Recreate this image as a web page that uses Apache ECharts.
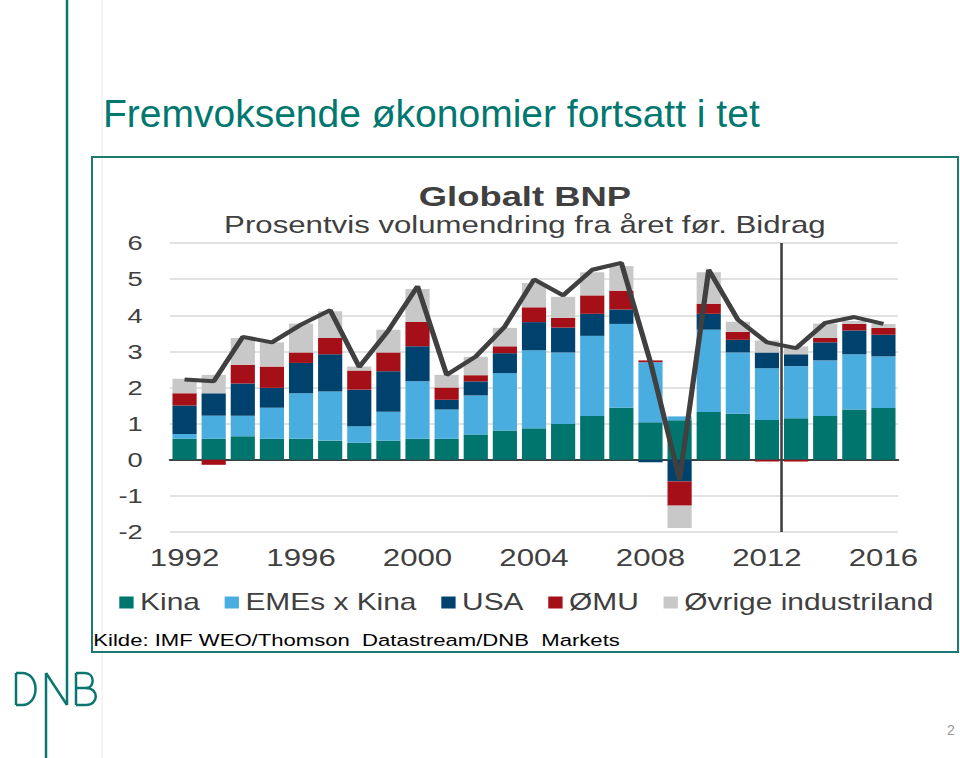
<!DOCTYPE html>
<html><head><meta charset="utf-8">
<script src="https://cdn.jsdelivr.net/npm/echarts@6/dist/echarts.min.js"></script>
<style>
html,body{margin:0;padding:0;background:#fff;overflow:hidden;}
#page{position:absolute;left:0;top:0;width:960px;height:758px;}
#chart{position:absolute;left:92px;top:157px;width:666px;height:495px;transform-origin:0 0;transform:scaleX(1.3);}
</style></head><body>
<div id="page"></div><div id="chart"></div>
<script>
var years = ['1992','1993','1994','1995','1996','1997','1998','1999','2000','2001','2002','2003','2004','2005','2006','2007','2008','2009','2010','2011','2012','2013','2014','2015','2016'];
var kina   = [0.58,0.58,0.65,0.58,0.58,0.53,0.47,0.53,0.58,0.58,0.70,0.81,0.87,0.99,1.21,1.44,1.04,1.09,1.32,1.27,1.10,1.15,1.21,1.39,1.43];
var emes   = [0.13,0.64,0.57,0.86,1.26,1.36,0.46,0.80,1.59,0.81,1.08,1.59,2.16,1.98,2.22,2.32,1.66,0.11,2.28,1.70,1.43,1.44,1.54,1.53,1.43];
var usa    = [0.79,0.62,0.89,0.55,0.84,1.03,1.01,1.12,0.97,0.27,0.39,0.55,0.78,0.69,0.61,0.40,-0.07,-0.60,0.44,0.35,0.44,0.33,0.50,0.66,0.60];
var omu    = [0.34,-0.14,0.52,0.59,0.29,0.45,0.53,0.52,0.67,0.34,0.17,0.19,0.41,0.27,0.51,0.52,0.05,-0.67,0.28,0.22,-0.05,-0.05,0.12,0.18,0.19];
var ovrige = [0.40,0.51,0.74,0.67,0.80,0.74,0.11,0.63,0.92,0.35,0.51,0.51,0.67,0.58,0.64,0.68,0.00,-0.62,0.87,0.28,0.33,0.22,0.40,0.08,0.11];
var total  = [2.22,2.17,3.40,3.25,3.74,4.14,2.57,3.58,4.80,2.35,2.86,3.69,4.99,4.55,5.26,5.45,2.70,-0.55,5.26,3.88,3.25,3.09,3.79,3.95,3.76];
var seriesNames = ['Kina','EMEs x Kina','USA','ØMU','Øvrige industriland'];
var seriesColors = ['#00756e','#4aaddf','#00426e','#a50f18','#c8c8c8'];
var forecastBoundary = [[21,-2],[21,6]];
var yTicks = {min:-2, max:6, interval:1};

var FONT = 'Liberation Sans, Arial, sans-serif';
var TEAL = '#0b756f';

// Page layer
var page = echarts.init(document.getElementById('page'), null, {renderer:'svg'});
page.setOption({
  animation:false,
  graphic:[
    {type:'line', shape:{x1:102,y1:0,x2:102,y2:758}, style:{stroke:'#ececec',lineWidth:1}},
    {type:'line', shape:{x1:67,y1:0,x2:67,y2:705}, style:{stroke:TEAL,lineWidth:2.5}},
    {type:'line', shape:{x1:46,y1:673,x2:67,y2:705}, style:{stroke:TEAL,lineWidth:2.5}},
    {type:'line', shape:{x1:46,y1:673,x2:46,y2:758}, style:{stroke:TEAL,lineWidth:2.5}},
    // D
    {type:'line', shape:{x1:16,y1:673,x2:16,y2:705}, style:{stroke:TEAL,lineWidth:2.5}},
    {type:'line', shape:{x1:16,y1:673,x2:22,y2:673}, style:{stroke:TEAL,lineWidth:2.5}},
    {type:'line', shape:{x1:16,y1:705,x2:22,y2:705}, style:{stroke:TEAL,lineWidth:2.5}},
    {type:'bezierCurve', shape:{x1:22,y1:673,cpx1:40,cpy1:673,cpx2:40,cpy2:705,x2:22,y2:705}, style:{stroke:TEAL,lineWidth:2.5,fill:null}},
    // B
    {type:'line', shape:{x1:76,y1:673,x2:76,y2:705}, style:{stroke:TEAL,lineWidth:2.5}},
    {type:'line', shape:{x1:76,y1:673,x2:85,y2:673}, style:{stroke:TEAL,lineWidth:2.5}},
    {type:'line', shape:{x1:76,y1:688,x2:86,y2:688}, style:{stroke:TEAL,lineWidth:2.5}},
    {type:'line', shape:{x1:76,y1:705,x2:86,y2:705}, style:{stroke:TEAL,lineWidth:2.5}},
    {type:'bezierCurve', shape:{x1:85,y1:673,cpx1:95,cpy1:673,cpx2:95,cpy2:688,x2:86,y2:688}, style:{stroke:TEAL,lineWidth:2.5,fill:null}},
    {type:'bezierCurve', shape:{x1:86,y1:688,cpx1:99,cpy1:688,cpx2:99,cpy2:705,x2:86,y2:705}, style:{stroke:TEAL,lineWidth:2.5,fill:null}},
    {type:'text', x:103, y:113, style:{text:'Fremvoksende økonomier fortsatt i tet', font:'39px '+FONT, fill:'#00776f', verticalAlign:'middle'}},
    {type:'rect', shape:{x:92,y:157,width:866,height:495}, style:{stroke:'#1c7a72',lineWidth:2,fill:null}},
    {type:'text', x:951, y:730, style:{text:'2', font:'14px '+FONT, fill:'#999', align:'center', verticalAlign:'middle'}}
  ]
});

// Chart layer (horizontally stretched like the reference picture)
var chart = echarts.init(document.getElementById('chart'), null, {renderer:'svg'});
var series = seriesNames.map(function(n,i){
  return {name:n, type:'bar', stack:'bnp', data:[kina,emes,usa,omu,ovrige][i],
    itemStyle:{color:seriesColors[i]}, barCategoryGap:'17%'};
});
series.push({name:'Totalt', type:'line', data:total, symbol:'none', z:10,
  lineStyle:{color:'#404040', width:4}, itemStyle:{color:'#404040'}});
series.push({name:'Prognose', type:'line', xAxisIndex:1, data:forecastBoundary, symbol:'none', z:9,
  lineStyle:{color:'#404040', width:2}, itemStyle:{color:'#404040'}});

chart.setOption({
  animation:false,
  textStyle:{fontFamily:FONT},
  title:[
    {text:'Globalt BNP', left:'center', top:21, textStyle:{fontSize:28, fontWeight:'bold', color:'#404040', fontFamily:FONT}},
    {text:'Prosentvis volumendring fra året før. Bidrag', left:'center', top:51, textStyle:{fontSize:24, fontWeight:'normal', color:'#404040', fontFamily:FONT}}
  ],
  legend:{data:seriesNames, left:16, top:429, icon:'rect', itemWidth:11, itemHeight:12, itemGap:19,
    textStyle:{fontSize:23, color:'#404040', fontFamily:FONT}},
  grid:{left:60, right:46, top:86, bottom:120, containLabel:false},
  xAxis:[
    {type:'category', data:years, boundaryGap:true,
     axisLine:{onZero:true, lineStyle:{color:'#404040', width:2}},
     axisTick:{interval:3, length:6, lineStyle:{color:'#404040', width:2}},
     axisLabel:{interval:3, margin:14, fontSize:24, color:'#404040', fontFamily:FONT},
     splitLine:{show:false}},
    {type:'value', min:0, max:years.length, show:false}
  ],
  yAxis:{type:'value', min:yTicks.min, max:yTicks.max, interval:yTicks.interval,
    axisLine:{show:false}, axisTick:{show:false},
    axisLabel:{fontSize:21, color:'#404040', margin:21, fontFamily:FONT},
    splitLine:{lineStyle:{color:'#d9d9d9', width:1.5}}},
  graphic:[
    {type:'text', x:1, y:483, style:{text:'Kilde: IMF WEO/Thomson  Datastream/DNB  Markets', font:'17px '+FONT, fill:'#000', verticalAlign:'middle'}}
  ],
  series:series
});
</script>
</body></html>
